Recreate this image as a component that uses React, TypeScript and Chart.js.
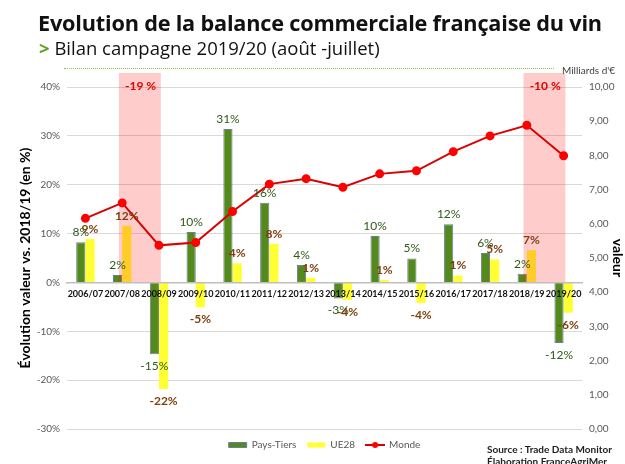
import React, { useEffect, useRef } from 'react';
import { Chart, registerables } from 'chart.js';

Chart.register(...registerables);

const categories = ['2006/07', '2007/08', '2008/09', '2009/10', '2010/11', '2011/12', '2012/13', '2013/14', '2014/15', '2015/16', '2016/17', '2017/18', '2018/19', '2019/20'];
const paysTiers = [8.2, 1.5, -14.7, 10.3, 31.4, 16.3, 3.55, -3.3, 9.5, 4.9, 11.9, 6.0, 1.8, -12.4];
const ue28 = [8.9, 11.6, -21.8, -5.1, 3.9, 7.9, 0.95, -3.6, 0.5, -4.2, 1.4, 4.7, 6.6, -6.2];
const monde = [6.16, 6.61, 5.37, 5.45, 6.36, 7.16, 7.32, 7.07, 7.46, 7.55, 8.11, 8.57, 8.88, 7.99];
const leftMin = -30;
const leftMax = 40;
const rightMin = 0;
const rightMax = 10;
const highlights = [
  { from: '2007/08', to: '2008/09', label: '-19 %' },
  { from: '2018/19', to: '2019/20', label: '-10 %' },
];

const FONT = 'Lato, "Open Sans", sans-serif';
const TITLE_FONT = '"Open Sans", Lato, sans-serif';
const GREEN = '#548a1c';
const YELLOW = '#ffff33';
const RED = '#d90000';

function makeLineIcon() {
  const c = document.createElement('canvas');
  c.width = 20;
  c.height = 8;
  const g = c.getContext('2d')!;
  g.strokeStyle = RED;
  g.lineWidth = 2;
  g.beginPath();
  g.moveTo(0, 4);
  g.lineTo(20, 4);
  g.stroke();
  g.fillStyle = '#ff0000';
  g.beginPath();
  g.arc(10, 4, 3, 0, Math.PI * 2);
  g.fill();
  return c;
}

const bandPlugin = {
  id: 'bands',
  beforeDatasetDraw(chart: any, args: any) {
    if (args.index !== 2) return;
    const x = chart.scales.x;
    const y = chart.scales.y;
    const ctx = chart.ctx;
    const cat = x.getPixelForValue(1) - x.getPixelForValue(0);
    ctx.save();
    ctx.fillStyle = 'rgba(255,0,0,0.2)';
    highlights.forEach((h) => {
      const i0 = categories.indexOf(h.from);
      const i1 = categories.indexOf(h.to);
      const left = x.getPixelForValue(i0) - cat * 0.09;
      const right = x.getPixelForValue(i1) + cat * 0.05;
      const top = chart.chartArea.top - 14;
      const bottom = y.getPixelForValue(0);
      ctx.fillRect(left, top, right - left, bottom - top);
    });
    ctx.restore();
  },
  afterDatasetsDraw(chart: any) {
    const x = chart.scales.x;
    const ctx = chart.ctx;
    ctx.save();
    ctx.textAlign = 'center';
    ctx.textBaseline = 'middle';
    ctx.font = `bold 12px ${FONT}`;
    ctx.fillStyle = '#e00000';
    highlights.forEach((h) => {
      const i0 = categories.indexOf(h.from);
      const i1 = categories.indexOf(h.to);
      const cx = (x.getPixelForValue(i0) + x.getPixelForValue(i1)) / 2;
      ctx.fillText(h.label, cx, chart.chartArea.top - 1);
    });
    const styles = [
      { font: `12px ${FONT}`, color: '#2e5a17' },
      { font: `bold 12px ${FONT}`, color: '#7f3f0f' },
    ];
    [0, 1].forEach((di) => {
      const meta = chart.getDatasetMeta(di);
      const data = chart.data.datasets[di].data as number[];
      ctx.font = styles[di].font;
      ctx.fillStyle = styles[di].color;
      meta.data.forEach((el: any, i: number) => {
        const v = data[i];
        const { x: px, y: py } = el.getProps(['x', 'y'], true);
        const ty = v >= 0 ? py - 10 : py + 12;
        ctx.fillText(`${Math.round(v)}%`, px, ty);
      });
    });
    ctx.restore();
  },
};

export default function App() {
  const ref = useRef<HTMLCanvasElement>(null);

  useEffect(() => {
    const lineIcon = makeLineIcon();
    const chart = new Chart(ref.current!, {
      type: 'bar',
      data: {
        labels: categories,
        datasets: [
          {
            type: 'bar',
            label: 'Pays-Tiers',
            data: paysTiers,
            backgroundColor: GREEN,
            borderColor: '#6b7c99',
            borderWidth: 1,
            yAxisID: 'y',
            order: 1,
            categoryPercentage: 0.5,
            barPercentage: 1.0,
          },
          {
            type: 'bar',
            label: 'UE28',
            data: ue28,
            backgroundColor: YELLOW,
            borderWidth: 0,
            yAxisID: 'y',
            order: 1,
            categoryPercentage: 0.5,
            barPercentage: 1.0,
          },
          {
            type: 'line',
            label: 'Monde',
            data: monde,
            borderColor: RED,
            backgroundColor: '#ff0000',
            pointBackgroundColor: '#ff0000',
            pointBorderColor: '#ff0000',
            pointRadius: 3.5,
            borderWidth: 2,
            yAxisID: 'y1',
            order: 0,
            tension: 0,
          },
        ],
      } as any,
      options: {
        animation: false,
        responsive: false,
        layout: { padding: { top: 87, left: 0, right: 0, bottom: 4 } },
        plugins: {
          tooltip: { enabled: false },
          legend: {
            position: 'bottom',
            fullSize: false,
            labels: {
              usePointStyle: true,
              pointStyleWidth: 18,
              boxHeight: 5,
              padding: 11,
              color: '#595959',
              font: { family: FONT, size: 10 },
              sort: (a: any, b: any) => a.datasetIndex - b.datasetIndex,
              generateLabels: (c: any) => {
                const items = (Chart.defaults.plugins.legend.labels as any).generateLabels(c);
                items.forEach((it: any) => {
                  it.pointStyle = it.datasetIndex === 2 ? lineIcon : 'rect';
                });
                return items;
              },
            },
          },
        },
        scales: {
          x: {
            type: 'category',
            position: { y: 0 } as any,
            grid: { display: false, drawTicks: false },
            border: { display: true, color: '#bfbfbf', width: 1.5, z: 1 },
            ticks: {
              z: 1,
              autoSkip: false,
              maxRotation: 0,
              minRotation: 0,
              padding: 6,
              color: '#111',
              font: { family: FONT, size: 9, weight: 'bold' },
            },
          },
          y: {
            type: 'linear',
            position: 'left',
            min: leftMin,
            max: leftMax,
            afterFit: (s: any) => { s.width = 67; },
            grid: { color: '#d9d9d9', lineWidth: 1, drawTicks: false },
            border: { display: false },
            ticks: {
              stepSize: 10,
              padding: 7,
              color: '#595959',
              font: { family: FONT, size: 10 },
              callback: (v: any) => `${v}%`,
            },
            title: {
              display: true,
              text: 'Évolution valeur vs. 2018/19 (en %)',
              color: '#000',
              font: { family: FONT, size: 14, weight: 'bold', lineHeight: 1 },
              padding: { top: 18, bottom: 0 },
            },
          },
          y1: {
            type: 'linear',
            position: 'right',
            min: rightMin,
            max: rightMax,
            afterFit: (s: any) => { s.width = 43; },
            grid: { drawOnChartArea: false, drawTicks: false },
            border: { display: false },
            ticks: {
              stepSize: 1,
              padding: 7,
              color: '#595959',
              font: { family: FONT, size: 10 },
              callback: (v: any) => Number(v).toFixed(2).replace('.', ','),
            },
            title: {
              display: true,
              text: 'valeur',
              color: '#000',
              font: { family: FONT, size: 14, weight: 'bold', lineHeight: 1 },
              padding: { top: 0, bottom: 0 },
            },
          },
        },
      } as any,
      plugins: [bandPlugin],
    });
    return () => chart.destroy();
  }, []);

  return (
    <div style={{ position: 'absolute', left: 0, top: 0, width: 625, height: 464, background: '#fff', overflow: 'hidden', fontFamily: FONT }}>
      <canvas ref={ref} width={625} height={464} style={{ position: 'absolute', left: 0, top: 0 }} />
      <div style={{ position: 'absolute', left: 38, top: 11, fontSize: 21.7, lineHeight: '24px', fontWeight: 'bold', color: '#111', whiteSpace: 'nowrap', fontFamily: TITLE_FONT, letterSpacing: -0.2 }}>
        Evolution de la balance commerciale française du vin
      </div>
      <div style={{ position: 'absolute', left: 39, top: 37, fontSize: 18.5, lineHeight: '22px', color: '#111', whiteSpace: 'nowrap', fontFamily: TITLE_FONT }}>
        <span style={{ color: '#5fa21e', fontWeight: 'bold' }}>&gt;</span> Bilan campagne 2019/20 (août -juillet)
      </div>
      <div style={{ position: 'absolute', left: 64, top: 68, width: 490, borderTop: '1.5px dotted #8cc152' }} />
      <div style={{ position: 'absolute', left: 562, top: 64, fontSize: 10, lineHeight: '12px', color: '#404040', whiteSpace: 'nowrap' }}>
        Milliards d'€
      </div>
      <div style={{ position: 'absolute', left: 487, top: 443, fontSize: 10, lineHeight: '12px', fontWeight: 'bold', color: '#222', whiteSpace: 'nowrap' }}>
        Source : Trade Data Monitor
        <br />
        Élaboration FranceAgriMer
      </div>
    </div>
  );
}
